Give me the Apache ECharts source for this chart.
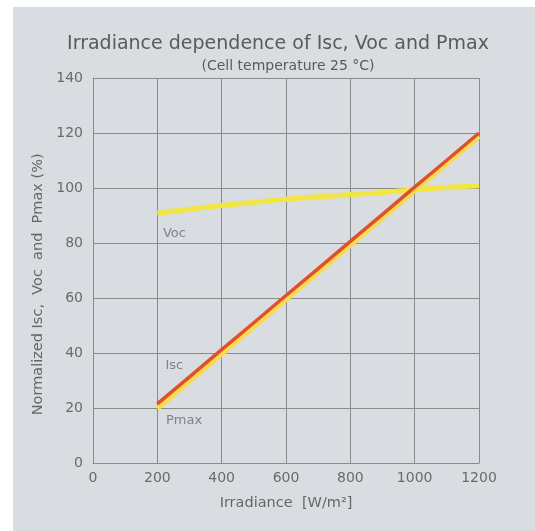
<!DOCTYPE html>
<html><head><meta charset="utf-8">
<script src="https://cdn.jsdelivr.net/npm/echarts@6/dist/echarts.min.js"></script>
<style>html,body{margin:0;padding:0;background:#fff}#c{width:535px;height:531px}</style>
</head><body><div id="c"></div>
<script>
var xTicks = [0, 200, 400, 600, 800, 1000, 1200];
var yTicks = [0, 20, 40, 60, 80, 100, 120, 140];
var irradiance = [200, 300, 400, 500, 600, 700, 800, 900, 1000, 1100, 1200];
var vocValues = [90.8, 92.3, 93.6, 94.8, 95.9, 96.8, 97.6, 98.4, 99.4, 100.2, 100.8];
var iscValues = [21.5, 31.3, 41.2, 51.0, 60.9, 70.7, 80.6, 90.4, 100.3, 110.1, 120];
var pmaxValues = [19.8, 29.7, 39.6, 49.5, 59.4, 69.3, 79.2, 89.1, 99.0, 108.9, 118.8];

function pairs(xs, ys){ return xs.map(function(x,i){return [x, ys[i]];}); }
var font = "'DejaVu Sans',sans-serif";
var chart = echarts.init(document.getElementById('c'));
chart.setOption({
  backgroundColor: '#ffffff',
  animation: false,
  graphic: [{type:'rect', z:-10, shape:{x:13,y:7,width:522,height:524}, style:{fill:'#d9dce0'}}],
  title: [
    {text:'Irradiance dependence of Isc, Voc and Pmax', left:273, top:30, textAlign:'center',
     textStyle:{fontFamily:font, fontSize:19, fontWeight:'normal', color:'#5a5a5a'}},
    {text:'(Cell temperature 25 °C)', left:283, top:54, textAlign:'center',
     textStyle:{fontFamily:font, fontSize:14, fontWeight:'normal', color:'#5a5a5a'}}
  ],
  grid: {left:93, right:56, top:78, bottom:68, show:false},
  xAxis: {type:'value', min:0, max:1200, interval:200,
    name:'Irradiance  [W/m²]', nameLocation:'middle', nameGap:33,
    nameTextStyle:{fontFamily:font, fontSize:14.5, color:'#666'},
    axisLine:{show:true, lineStyle:{color:'#8a8a8a', width:1}},
    axisTick:{show:false},
    axisLabel:{fontFamily:font, fontSize:14, color:'#6a6a6a', margin:8,
      formatter:function(v){return String(v);}},
    splitLine:{show:true, lineStyle:{color:'#8a8a8a', width:1}}},
  yAxis: {type:'value', min:0, max:140, interval:20,
    name:'Normalized Isc,  Voc  and  Pmax (%)      ', nameLocation:'middle', nameGap:43,
    nameTextStyle:{fontFamily:font, fontSize:14.5, color:'#666'},
    axisLine:{show:true, lineStyle:{color:'#8a8a8a', width:1}},
    axisTick:{show:false},
    axisLabel:{fontFamily:font, fontSize:14, color:'#6a6a6a', margin:10,
      formatter:function(v){return String(v);}},
    splitLine:{show:true, lineStyle:{color:'#8a8a8a', width:1}}},
  series: [
    {name:'Voc', type:'line', data:pairs(irradiance, vocValues), smooth:true, symbol:'none',
     lineStyle:{color:'#f2e640', width:5}, z:3},
    {name:'Pmax', type:'line', data:pairs(irradiance, pmaxValues), symbol:'none',
     lineStyle:{color:'#f6dc50', width:5}, z:4},
    {name:'Isc', type:'line', data:pairs(irradiance, iscValues), symbol:'none',
     lineStyle:{color:'#e0502a', width:3.5}, z:5},
    {type:'scatter', symbolSize:0, silent:true, z:6,
     data:[
       {value:[253,83.5], label:{show:true, formatter:'Voc'}},
       {value:[253,35.5], label:{show:true, formatter:'Isc'}},
       {value:[283,15.5], label:{show:true, formatter:'Pmax'}}
     ],
     label:{show:true, position:'inside', fontFamily:font, fontSize:13, color:'#6a6a78'}}
  ]
});
</script></body></html>
